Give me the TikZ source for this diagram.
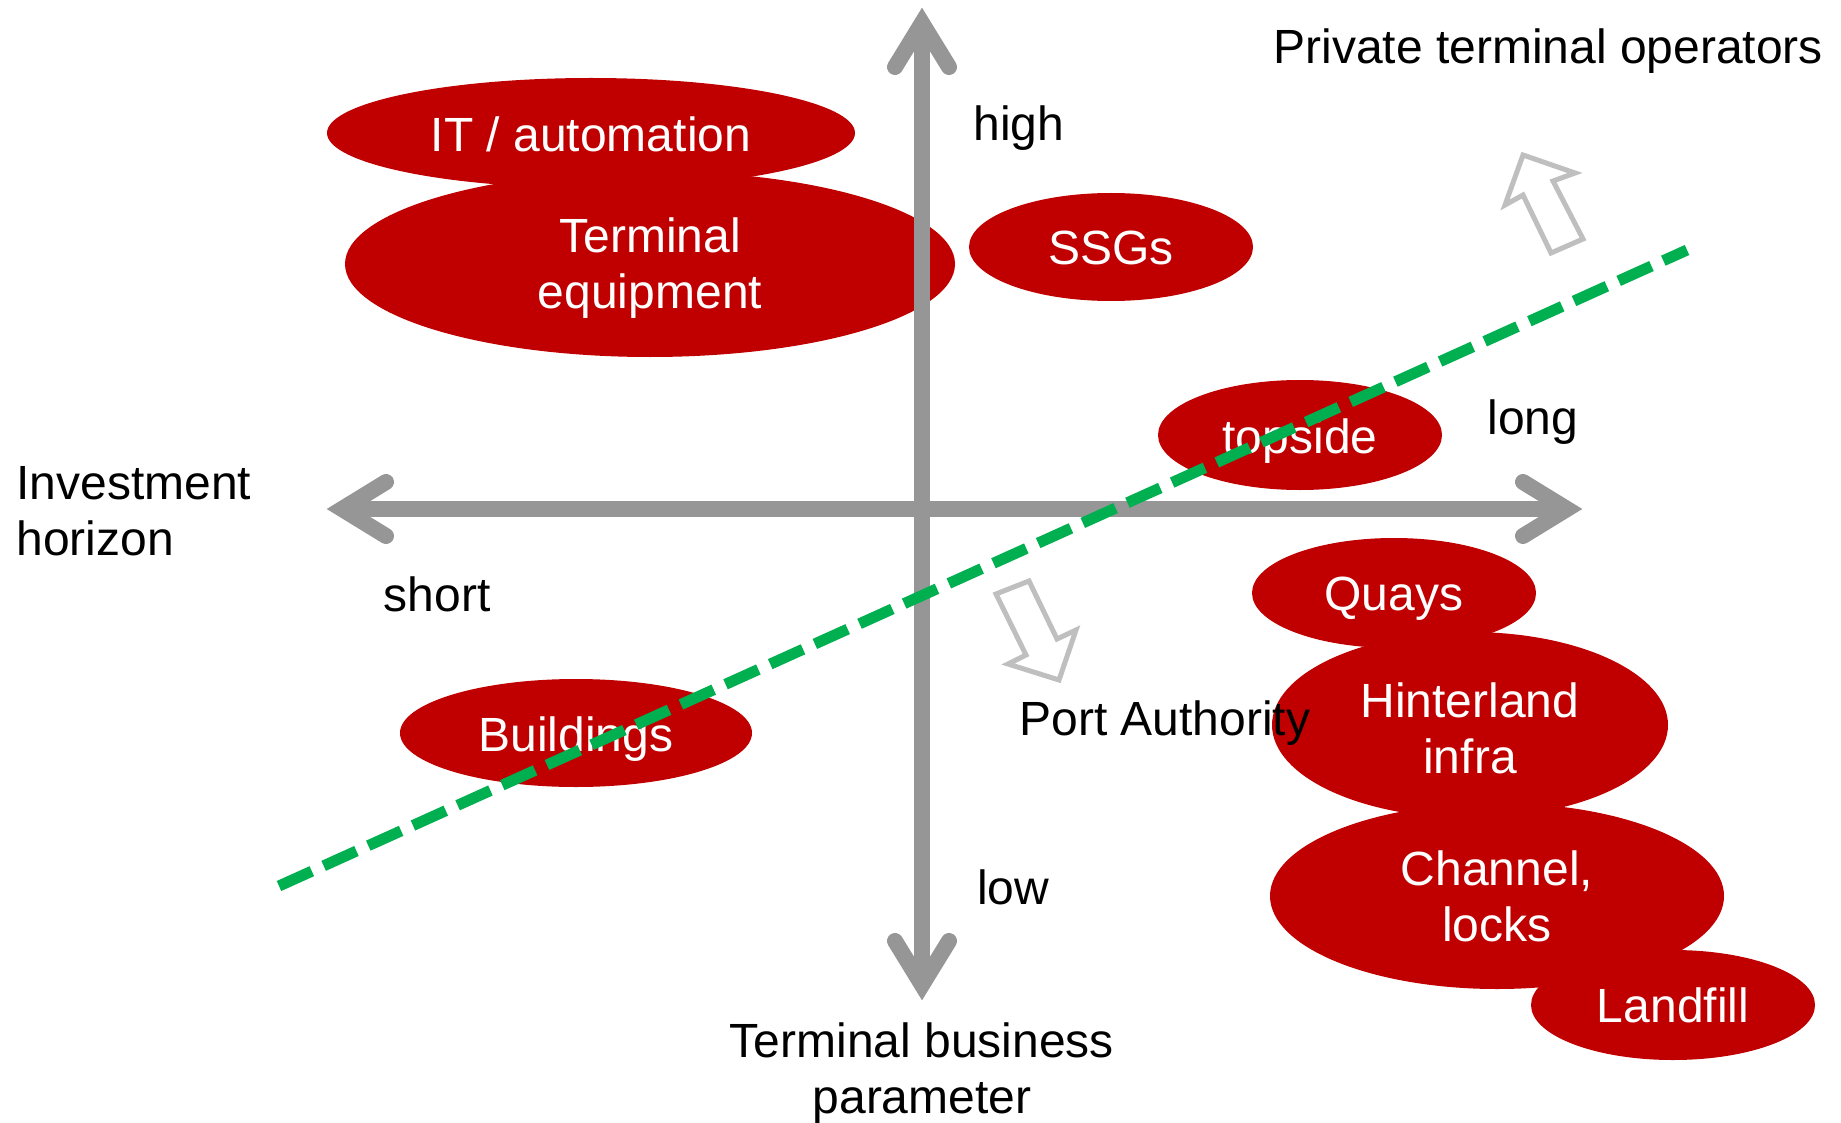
\documentclass[tikz,border=0pt]{standalone}
\usepackage{fontspec}
\setmainfont{Liberation Sans}
\usetikzlibrary{shapes.geometric,calc}
\definecolor{portred}{HTML}{C00000}
\definecolor{axisgray}{HTML}{969696}
\definecolor{hollowgray}{HTML}{BFBFBF}
\definecolor{splitgreen}{HTML}{00B050}

\begin{document}
\begin{tikzpicture}[x=0.5pt,y=-0.5pt,
  blob/.style={ellipse, fill=portred, draw=none, inner sep=0pt},
  intext/.style={text=white, font=\fontsize{24}{28}\selectfont, inner sep=0pt, align=center},
  outtext/.style={text=black, font=\fontsize{24}{28}\selectfont, inner sep=0pt},
  axisline/.style={draw=axisgray, line width=8pt},
  axishead/.style={draw=axisgray, line width=8pt, line cap=round, line join=miter},
  divider/.style={draw=splitgreen, line width=5.5pt, dash pattern=on 18pt off 6.5pt},
  shiftarrow/.style={draw=hollowgray, fill=white, line width=2.5pt, line join=miter}
]
\useasboundingbox (0,0) rectangle (1841,1123);

% asset classes (ellipses)
\node[blob, minimum width=264pt, minimum height=55pt] (it)   at (591,133)  {};
\node[blob, minimum width=305pt, minimum height=93pt] (te)   at (650,264)  {};
\node[blob, minimum width=142pt, minimum height=54pt] (ssg)  at (1111,247) {};
\node[blob, minimum width=142pt, minimum height=55pt] (top)  at (1300,435) {};
\node[blob, minimum width=142pt, minimum height=55pt] (quay) at (1394,593) {};
\node[blob, minimum width=198pt, minimum height=93pt] (hint) at (1470,725) {};
\node[blob, minimum width=227pt, minimum height=93pt] (chan) at (1497,896) {};
\node[blob, minimum width=142pt, minimum height=55pt] (land) at (1673,1005) {};
\node[blob, minimum width=176pt, minimum height=54pt] (bld)  at (576,733)  {};

% ellipse labels
\node[intext, anchor=base]  (itL)   at ($(it)+(0,19)$)    {IT / automation};
\node[intext, anchor=north] (teL)   at ($(te)+(0,-47)$)   {Terminal\\equipment};
\node[intext, anchor=base]  (ssgL)  at ($(ssg)+(0,17)$)   {SSGs};
\node[intext, anchor=base]  (topL)  at ($(top)+(0,18)$)   {topside};
\node[intext, anchor=base]  (quayL) at ($(quay)+(0,17)$)  {Quays};
\node[intext, anchor=north] (hintL) at ($(hint)+(0,-43)$) {Hinterland\\infra};
\node[intext, anchor=north] (chanL) at ($(chan)+(0,-46)$) {Channel,\\locks};
\node[intext, anchor=base]  (landL) at ($(land)+(0,17)$)  {Landfill};
\node[intext, anchor=base]  (bldL)  at ($(bld)+(0,18)$)   {Buildings};

% axes
\coordinate (ytop) at (922,23);
\coordinate (ybot) at (922,985);
\coordinate (xlft) at (342,509);
\coordinate (xrgt) at (1567,509);
\draw[axisline] (ybot) -- (ytop);
\draw[axisline] (xlft) -- (xrgt);
\draw[axishead] ($(ytop)+(-27,44)$) -- (ytop) -- ($(ytop)+(27,44)$);
\draw[axishead] ($(ybot)+(-27,-44)$) -- (ybot) -- ($(ybot)+(27,-44)$);
\draw[axishead] ($(xlft)+(44,-27)$) -- (xlft) -- ($(xlft)+(44,27)$);
\draw[axishead] ($(xrgt)+(-44,-27)$) -- (xrgt) -- ($(xrgt)+(-44,27)$);

% axis labels
\node[outtext, anchor=base] (high)  at (1019,141) {high};
\node[outtext, anchor=base] (low)   at (1013,904) {low};
\node[outtext, anchor=base] (long)  at (1533,434) {long};
\node[outtext, anchor=base] (short) at (437,611)  {short};
\node[outtext, align=left, anchor=north west] (horizon) at (16,466) {Investment\\horizon};
\node[outtext, align=center, anchor=north] (param) at (922,1022) {Terminal business\\parameter};

% parties
\node[outtext, anchor=base west] (pto) at (1273,64)  {Private terminal operators};
\node[outtext, anchor=base west] (pa)  at (1019,735) {Port Authority};

% hollow arrows pointing to each party
\draw[shiftarrow] (1523,155) -- (1575,173) -- (1553,181) -- (1583,239) -- (1551,253)
  -- (1523,195) -- (1505,205) -- cycle;
\draw[shiftarrow] (996,594) -- (1029,581) -- (1057,639) -- (1076,630) -- (1059,680)
  -- (1008,664) -- (1026,655) -- cycle;

% dividing line between the two responsibilities
\coordinate (divA) at (279,886);
\coordinate (divB) at (1687,250);
\draw[divider] (divA) -- (divB);
\end{tikzpicture}
\end{document}
